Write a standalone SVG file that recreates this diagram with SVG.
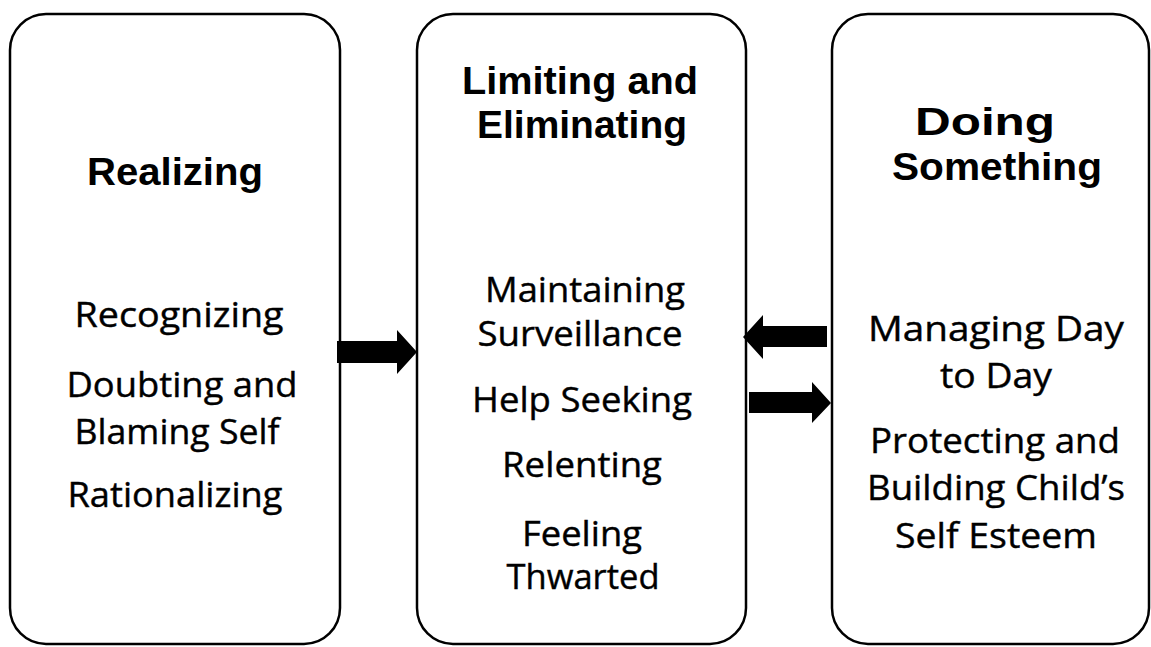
<svg xmlns="http://www.w3.org/2000/svg" width="1151" height="647" viewBox="0 0 1151 647">
<style>
.box{fill:#fff;stroke:#000;stroke-width:2.5}
.h{font-family:"Liberation Sans",Arial,sans-serif;font-weight:bold;font-size:39px;text-anchor:middle;fill:#000}
.t{font-family:"Open Sans","Liberation Sans",sans-serif;font-size:34px;text-anchor:middle;fill:#000;stroke:#000;stroke-width:0.4}
.arr{fill:#000;stroke:none}
</style>
<rect width="1151" height="647" fill="#fff"/>
<g id="realizing">
<rect class="box" x="10" y="14" width="330" height="630" rx="36" ry="36"/>
<text class="h" x="175" y="185" textLength="176" lengthAdjust="spacingAndGlyphs">Realizing</text>
<text class="t" x="179" y="327" textLength="209" lengthAdjust="spacingAndGlyphs">Recognizing</text>
<text class="t" x="182" y="397" textLength="231" lengthAdjust="spacingAndGlyphs">Doubting and</text>
<text class="t" x="177" y="444" textLength="205" lengthAdjust="spacingAndGlyphs">Blaming Self</text>
<text class="t" x="175" y="507" textLength="215" lengthAdjust="spacingAndGlyphs">Rationalizing</text>
</g>
<g id="limiting">
<rect class="box" x="417" y="14" width="329" height="630" rx="36" ry="36"/>
<text class="h" x="580" y="94" textLength="236" lengthAdjust="spacingAndGlyphs">Limiting and</text>
<text class="h" x="582" y="138" textLength="210" lengthAdjust="spacingAndGlyphs">Eliminating</text>
<text class="t" x="585" y="302" textLength="200" lengthAdjust="spacingAndGlyphs">Maintaining</text>
<text class="t" x="580" y="346" textLength="205" lengthAdjust="spacingAndGlyphs">Surveillance</text>
<text class="t" x="582" y="412" textLength="220" lengthAdjust="spacingAndGlyphs">Help Seeking</text>
<text class="t" x="582" y="477" textLength="160" lengthAdjust="spacingAndGlyphs">Relenting</text>
<text class="t" x="582" y="546" textLength="120" lengthAdjust="spacingAndGlyphs">Feeling</text>
<text class="t" x="583" y="589" textLength="153" lengthAdjust="spacingAndGlyphs">Thwarted</text>
</g>
<g id="doing">
<rect class="box" x="832" y="14" width="317" height="630" rx="36" ry="36"/>
<text class="h" x="985" y="135" textLength="140" lengthAdjust="spacingAndGlyphs">Doing</text>
<text class="h" x="997" y="180" textLength="210" lengthAdjust="spacingAndGlyphs">Something</text>
<text class="t" x="996" y="341" textLength="256" lengthAdjust="spacingAndGlyphs">Managing Day</text>
<text class="t" x="996" y="388" textLength="112" lengthAdjust="spacingAndGlyphs">to Day</text>
<text class="t" x="995" y="453" textLength="250" lengthAdjust="spacingAndGlyphs">Protecting and</text>
<text class="t" x="996" y="500" textLength="258" lengthAdjust="spacingAndGlyphs">Building Child’s</text>
<text class="t" x="996" y="548" textLength="202" lengthAdjust="spacingAndGlyphs">Self Esteem</text>
</g>
<g id="connectors">
<polygon class="arr" points="337,341 397,341 397,330 417,352 397,374 397,363 337,363"/>
<polygon class="arr" points="827,326 763,326 763,315 743,337 763,359 763,347 827,347"/>
<polygon class="arr" points="749,392 812,392 812,382 831,403 812,423 812,413 749,413"/>
</g>
</svg>
